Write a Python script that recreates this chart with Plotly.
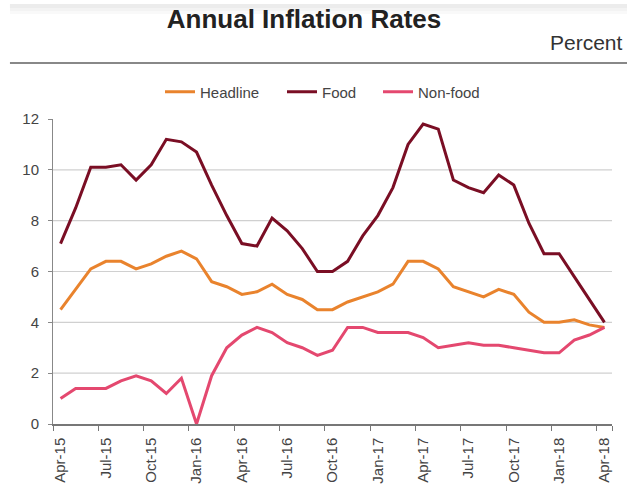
import plotly.graph_objects as go

months = ["Apr-15", "May-15", "Jun-15", "Jul-15", "Aug-15", "Sep-15", "Oct-15", "Nov-15", "Dec-15",
          "Jan-16", "Feb-16", "Mar-16", "Apr-16", "May-16", "Jun-16", "Jul-16", "Aug-16", "Sep-16",
          "Oct-16", "Nov-16", "Dec-16", "Jan-17", "Feb-17", "Mar-17", "Apr-17", "May-17", "Jun-17",
          "Jul-17", "Aug-17", "Sep-17", "Oct-17", "Nov-17", "Dec-17", "Jan-18", "Feb-18", "Mar-18",
          "Apr-18"]

headline = [4.5, 5.3, 6.1, 6.4, 6.4, 6.1, 6.3, 6.6, 6.8, 6.5, 5.6, 5.4, 5.1, 5.2, 5.5, 5.1, 4.9, 4.5,
            4.5, 4.8, 5.0, 5.2, 5.5, 6.4, 6.4, 6.1, 5.4, 5.2, 5.0, 5.3, 5.1, 4.4, 4.0, 4.0, 4.1, 3.9,
            3.8]
food = [7.1, 8.5, 10.1, 10.1, 10.2, 9.6, 10.2, 11.2, 11.1, 10.7, 9.4, 8.2, 7.1, 7.0, 8.1, 7.6, 6.9, 6.0,
        6.0, 6.4, 7.4, 8.2, 9.3, 11.0, 11.8, 11.6, 9.6, 9.3, 9.1, 9.8, 9.4, 7.9, 6.7, 6.7, 5.8, 4.9,
        4.0]
nonfood = [1.0, 1.4, 1.4, 1.4, 1.7, 1.9, 1.7, 1.2, 1.8, 0.0, 1.9, 3.0, 3.5, 3.8, 3.6, 3.2, 3.0, 2.7,
           2.9, 3.8, 3.8, 3.6, 3.6, 3.6, 3.4, 3.0, 3.1, 3.2, 3.1, 3.1, 3.0, 2.9, 2.8, 2.8, 3.3, 3.5,
           3.8]

x_tick_labels = months[::3]
y_ticks = [0, 2, 4, 6, 8, 10, 12]
grid_vals = [2, 4, 6, 8, 10]

series = [
    ("Headline", headline, "#E9832D", "legend"),
    ("Food", food, "#7A0E24", "legend2"),
    ("Non-food", nonfood, "#E4486F", "legend3"),
]

fig = go.Figure()
for name, vals, color, leg in series:
    fig.add_trace(go.Scatter(x=months, y=vals, name=name, mode="lines", legend=leg,
                             line=dict(color=color, width=3), cliponaxis=False))

shapes = []
for g in grid_vals:
    shapes.append(dict(type="line", xref="paper", yref="y", x0=0, x1=1, y0=g, y1=g,
                       line=dict(color="#d0d0d0", width=1.2), layer="below"))
# header rule
shapes.append(dict(type="line", xref="paper", yref="paper", x0=-0.077, x1=1.03,
                   y0=1.1836, y1=1.1836, line=dict(color="#888888", width=2)))
# faint shaded strip at the very top
for (a, b, c) in [(4, 8, "#ececec"), (8, 11, "#f3f3f3"), (11, 14, "#f9f9f9")]:
    shapes.append(dict(type="rect", xref="paper", yref="paper",
                       x0=-0.077, x1=1.03, y0=(424 - b) / 305, y1=(424 - a) / 305,
                       line=dict(width=0), fillcolor=c, layer="below"))

def leg(px):
    return dict(orientation="h", x=(px - 53) / 559, xanchor="left", y=(424 - 92) / 305,
                yanchor="middle", font=dict(size=15, color="#444444"),
                bgcolor="rgba(0,0,0,0)")

fig.update_layout(
    width=627, height=499,
    margin=dict(l=53, r=15, t=119, b=75),
    paper_bgcolor="white", plot_bgcolor="white",
    font=dict(family="Liberation Sans, Arial, sans-serif", size=15, color="#444444"),
    title=dict(text="<b>Annual Inflation Rates</b>", x=304 / 627, xanchor="center",
               y=1 - 19 / 499, yanchor="middle", yref="container",
               font=dict(size=26, color="#222222")),
    showlegend=True,
    legend=leg(160), legend2=leg(282), legend3=leg(378),
    shapes=shapes,
    annotations=[dict(text="Percent", xref="paper", yref="paper", x=(625 - 53) / 559,
                      xanchor="right", y=(424 - 42) / 305, yanchor="middle", showarrow=False,
                      font=dict(size=21, color="#333333"))],
)

fig.update_xaxes(type="category", tickmode="array", tickvals=x_tick_labels, ticktext=x_tick_labels,
                 tickangle=-90, tickson="boundaries", ticks="outside", ticklen=5,
                 tickcolor="#777777", showline=True, linecolor="#777777", linewidth=1.5,
                 showgrid=False, zeroline=False, range=[-0.5, 36.5], ticklabelstandoff=6,
                 tickfont=dict(size=15, color="#444444"))
fig.update_yaxes(range=[0, 12], tickmode="array", tickvals=y_ticks, ticks="outside", ticklen=4,
                 tickcolor="#888888", showline=True, linecolor="#888888", linewidth=1,
                 showgrid=False, zeroline=False, ticklabelstandoff=6,
                 tickfont=dict(size=15, color="#444444"))

fig.write_html("out.html")
